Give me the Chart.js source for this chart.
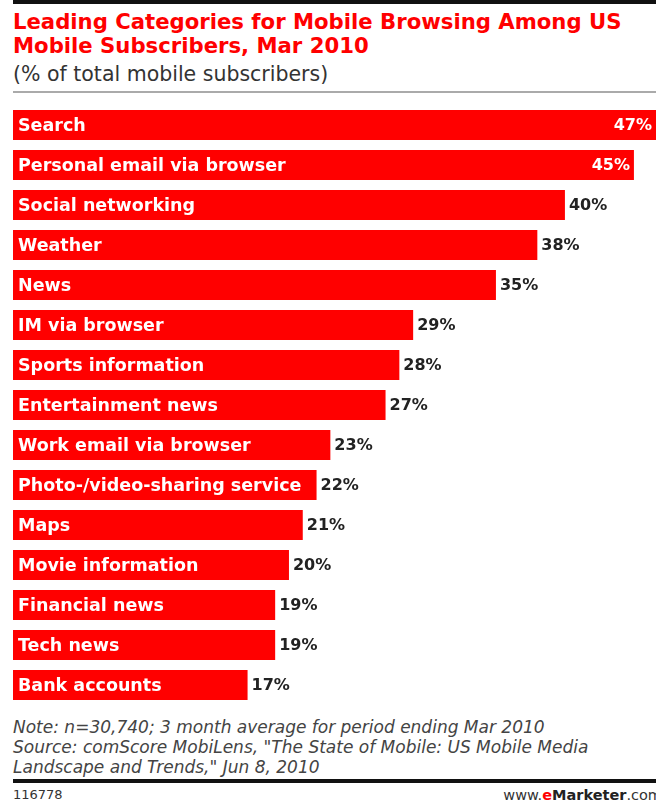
<!DOCTYPE html>
<html>
<head>
<meta charset="utf-8">
<script src="https://cdn.jsdelivr.net/npm/chart.js@4/dist/chart.umd.min.js"></script>
<style>
  html, body { margin: 0; padding: 0; background: #fff; }
  body { width: 656px; height: 804px; position: relative; overflow: hidden; font-family: "DejaVu Sans", Verdana, sans-serif; }
  .rule-top { position: absolute; left: 13px; right: 0; top: 0; height: 4px; background: #111; }
  .rule-mid { position: absolute; left: 13px; right: 0; top: 91px; height: 2px; background: #aaa; }
  .rule-bot { position: absolute; left: 13px; right: 0; top: 779px; height: 4px; background: #111; }
  h1 { position: absolute; left: 13px; top: 10px; margin: 0; font-size: 21.2px; line-height: 24px; font-weight: bold; color: #f00; white-space: nowrap; }
  .sub { position: absolute; left: 13px; top: 62px; font-size: 20.5px; line-height: 24px; color: #333; white-space: nowrap; }
  .note { position: absolute; left: 13px; top: 717px; font-size: 17px; line-height: 20px; font-style: italic; color: #444; white-space: nowrap; }
  .code { position: absolute; left: 13px; top: 787px; font-size: 13px; line-height: 16px; color: #333; }
  .site { position: absolute; right: -6px; top: 787px; font-size: 14.5px; line-height: 16px; color: #333; }
  .site b { color: #222; }
  .site .e { color: #f00; }
  #wrap { position: absolute; left: 0; top: 100px; width: 656px; height: 610px; }
</style>
</head>
<body>
<div class="rule-top"></div>
<h1>Leading Categories for Mobile Browsing Among US<br>Mobile Subscribers, Mar 2010</h1>
<div class="sub">(% of total mobile subscribers)</div>
<div class="rule-mid"></div>
<div id="wrap"><canvas id="my-chart"></canvas></div>
<div class="note">Note: n=30,740; 3 month average for period ending Mar 2010<br>Source: comScore MobiLens, "The State of Mobile: US Mobile Media<br>Landscape and Trends," Jun 8, 2010</div>
<div class="rule-bot"></div>
<div class="code">116778</div>
<div class="site">www.<b><span class="e">e</span>Marketer</b>.com</div>
<script>
var categories = ['Search', 'Personal email via browser', 'Social networking', 'Weather', 'News',
  'IM via browser', 'Sports information', 'Entertainment news', 'Work email via browser',
  'Photo-/video-sharing service', 'Maps', 'Movie information', 'Financial news', 'Tech news',
  'Bank accounts'];
var shares = [47, 45, 40, 38, 35, 29, 28, 27, 23, 22, 21, 20, 19, 19, 17];

// category name inside the bar, value after it (or inside when there is no room)
var barLabels = {
  id: 'barLabels',
  afterDatasetsDraw: function (chart) {
    var c = chart.ctx;
    var area = chart.chartArea;
    var bars = chart.getDatasetMeta(0).data;
    c.save();
    c.textBaseline = 'middle';
    bars.forEach(function (bar, i) {
      var y = bar.y + 1;
      c.font = 'bold 17.5px "DejaVu Sans", Verdana, sans-serif';
      c.fillStyle = '#fff';
      c.textAlign = 'left';
      c.fillText(categories[i], area.left + 5, y);

      c.font = 'bold 16px "DejaVu Sans", Verdana, sans-serif';
      var txt = shares[i] + '%';
      var end = Math.min(bar.x, area.right);
      var w = c.measureText(txt).width;
      if (end + 4 + w > area.right) {
        c.fillStyle = '#fff';
        c.textAlign = 'right';
        c.fillText(txt, end - 4, y);
      } else {
        c.fillStyle = '#222';
        c.textAlign = 'left';
        c.fillText(txt, end + 4, y);
      }
    });
    c.restore();
  }
};

var ctx = document.getElementById('my-chart');
var myChart = new Chart(ctx, {
  type: 'bar',
  data: {
    labels: categories,
    datasets: [{
      data: shares,
      backgroundColor: '#ff0000',
      borderWidth: 0,
      barPercentage: 0.75,
      categoryPercentage: 1,
      clip: 0
    }]
  },
  options: {
    indexAxis: 'y',
    responsive: true,
    maintainAspectRatio: false,
    animation: false,
    layout: { padding: { left: 13, right: 0, top: 5, bottom: 5 } },
    plugins: { legend: { display: false }, tooltip: { enabled: false } },
    scales: {
      x: { display: false, min: 0, max: 46.6 },
      y: { display: false }
    }
  },
  plugins: [barLabels]
});
</script>
</body>
</html>
